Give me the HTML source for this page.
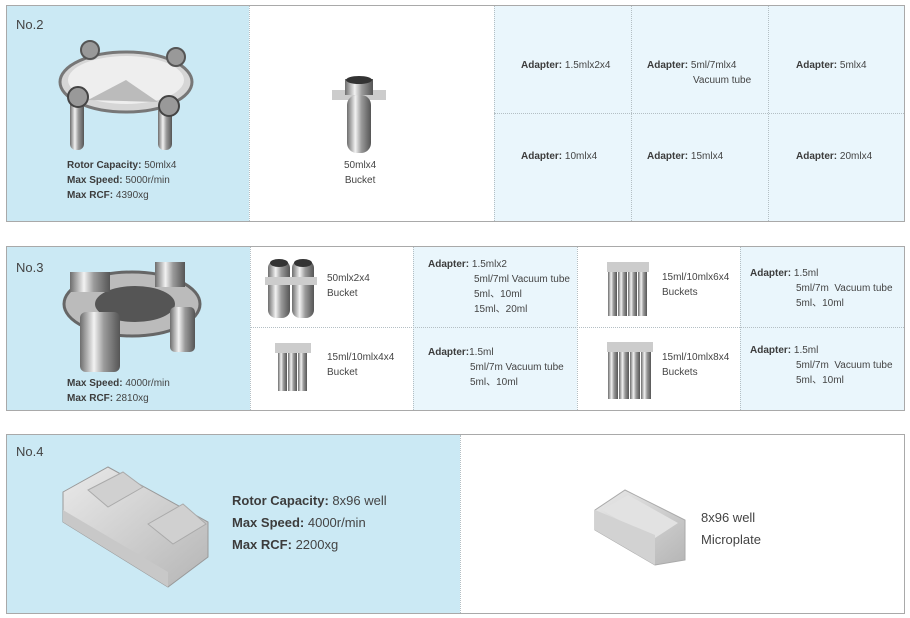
<!DOCTYPE html>
<html><head><meta charset="utf-8"><style>
*{margin:0;padding:0;box-sizing:border-box}
body{width:910px;height:618px;background:#fff;font-family:"Liberation Sans",Arial,sans-serif;color:#444;position:relative;overflow:hidden}
.a{position:absolute}
.box{position:absolute;border:1.5px solid #a9a9a9}
.blue{background:#cbe9f4}
.lb{background:#eaf6fc}
.vd{position:absolute;border-left:1px dotted #b4bfc4}
.hd{position:absolute;border-top:1px dotted #b4bfc4}
.t{position:absolute;font-size:10px;line-height:15px;color:#444;white-space:nowrap}
b{color:#3c3c3c}
.no{position:absolute;font-size:13px;color:#444}
</style></head><body>
<svg width="0" height="0" style="position:absolute"><defs>
<linearGradient id="m" x1="0" x2="1"><stop offset="0" stop-color="#6d6d6d"/><stop offset=".35" stop-color="#f2f2f2"/><stop offset=".6" stop-color="#9a9a9a"/><stop offset="1" stop-color="#555"/></linearGradient>
<linearGradient id="al" x1="0" x2="1" y1="0" y2="1"><stop offset="0" stop-color="#eaeaea"/><stop offset="1" stop-color="#b5b5b5"/></linearGradient>
</defs></svg>

<!-- Panel 1 -->
<div class="box" style="left:6px;top:5px;width:899px;height:217px"></div>
<div class="a blue" style="left:7px;top:6px;width:242px;height:215px"></div>
<div class="a lb" style="left:494px;top:6px;width:410px;height:215px"></div>
<div class="vd" style="left:249px;top:6px;height:215px"></div>
<div class="vd" style="left:494px;top:6px;height:215px"></div>
<div class="vd" style="left:631px;top:6px;height:215px"></div>
<div class="vd" style="left:768px;top:6px;height:215px"></div>
<div class="hd" style="left:494px;top:113px;width:410px"></div>
<div class="no" style="left:16px;top:17px">No.2</div>
<svg class="a" style="left:58px;top:40px" width="145" height="115">
<rect x="12" y="55" width="14" height="55" rx="6" fill="url(#m)"/><rect x="100" y="55" width="14" height="55" rx="6" fill="url(#m)"/>
<ellipse cx="68" cy="42" rx="66" ry="30" fill="#d6d6d6" stroke="#777" stroke-width="3"/>
<ellipse cx="68" cy="40" rx="58" ry="24" fill="#eee"/>
<path d="M68 40 L30 60 L100 62Z" fill="#bbb"/>
<circle cx="32" cy="10" r="9" fill="#999" stroke="#555" stroke-width="2"/><circle cx="118" cy="17" r="9" fill="#999" stroke="#555" stroke-width="2"/>
<circle cx="20" cy="57" r="10" fill="#999" stroke="#444" stroke-width="2"/><circle cx="111" cy="66" r="10" fill="#999" stroke="#444" stroke-width="2"/>
</svg>
<div class="t" style="left:67px;top:158px"><b>Rotor Capacity:</b> 50mlx4<br><b>Max Speed:</b> 5000r/min<br><b>Max RCF:</b> 4390xg</div>
<svg class="a" style="left:330px;top:75px" width="60" height="80">
<rect x="2" y="15" width="54" height="10" fill="#ccc"/>
<rect x="17" y="20" width="24" height="58" rx="10" fill="url(#m)"/>
<rect x="15" y="4" width="28" height="16" fill="url(#m)"/><ellipse cx="29" cy="5" rx="13" ry="4" fill="#333"/>
</svg>
<div class="t" style="left:344px;top:158px;text-align:center">50mlx4<br>Bucket</div>
<div class="t" style="left:521px;top:58px"><b>Adapter:</b> 1.5mlx2x4</div>
<div class="t" style="left:647px;top:58px"><b>Adapter:</b> 5ml/7mlx4<br><span style="padding-left:46px">Vacuum tube</span></div>
<div class="t" style="left:796px;top:58px"><b>Adapter:</b> 5mlx4</div>
<div class="t" style="left:521px;top:149px"><b>Adapter:</b> 10mlx4</div>
<div class="t" style="left:647px;top:149px"><b>Adapter:</b> 15mlx4</div>
<div class="t" style="left:796px;top:149px"><b>Adapter:</b> 20mlx4</div>

<!-- Panel 2 -->
<div class="box" style="left:6px;top:246px;width:899px;height:165px"></div>
<div class="a blue" style="left:7px;top:247px;width:243px;height:163px"></div>
<div class="a lb" style="left:413px;top:247px;width:164px;height:163px"></div>
<div class="a lb" style="left:740px;top:247px;width:164px;height:163px"></div>
<div class="vd" style="left:250px;top:247px;height:163px"></div>
<div class="vd" style="left:413px;top:247px;height:163px"></div>
<div class="vd" style="left:577px;top:247px;height:163px"></div>
<div class="vd" style="left:740px;top:247px;height:163px"></div>
<div class="hd" style="left:250px;top:327px;width:654px"></div>
<div class="no" style="left:16px;top:260px">No.3</div>
<svg class="a" style="left:60px;top:252px" width="145" height="125">
<ellipse cx="72" cy="52" rx="68" ry="32" fill="#bbb" stroke="#666" stroke-width="3"/>
<ellipse cx="75" cy="52" rx="40" ry="18" fill="#555"/>
<rect x="20" y="60" width="40" height="60" rx="6" fill="url(#m)"/><rect x="110" y="55" width="25" height="45" rx="5" fill="url(#m)"/>
<rect x="10" y="20" width="40" height="20" fill="url(#m)"/><rect x="95" y="10" width="30" height="25" fill="url(#m)"/>
</svg>
<div class="t" style="left:67px;top:376px"><b>Max Speed:</b> 4000r/min<br><b>Max RCF:</b> 2810xg</div>
<svg class="a" style="left:265px;top:255px" width="55" height="65"><rect x="3" y="5" width="22" height="58" rx="8" fill="url(#m)"/><rect x="27" y="5" width="22" height="58" rx="8" fill="url(#m)"/><rect x="0" y="22" width="52" height="8" fill="#ccc"/><ellipse cx="14" cy="8" rx="9" ry="4" fill="#333"/><ellipse cx="38" cy="8" rx="9" ry="4" fill="#333"/></svg>
<div class="t" style="left:327px;top:271px">50mlx2x4<br>Bucket</div>
<div class="t" style="left:428px;top:257px"><b>Adapter:</b> 1.5mlx2<br><span style="padding-left:46px">5ml/7ml Vacuum tube</span><br><span style="padding-left:46px">5ml、10ml</span><br><span style="padding-left:46px">15ml、20ml</span></div>
<svg class="a" style="left:605px;top:258px" width="50" height="60"><g fill="url(#m)"><rect x="3" y="8" width="9" height="50"/><rect x="13" y="8" width="9" height="50"/><rect x="23" y="8" width="9" height="50"/><rect x="33" y="8" width="9" height="50"/></g><rect x="2" y="4" width="42" height="10" fill="#ccc"/></svg>
<div class="t" style="left:662px;top:270px">15ml/10mlx6x4<br>Buckets</div>
<div class="t" style="left:750px;top:266px"><b>Adapter:</b> 1.5ml<br><span style="padding-left:46px">5ml/7m&nbsp; Vacuum tube</span><br><span style="padding-left:46px">5ml、10ml</span></div>
<svg class="a" style="left:272px;top:338px" width="42" height="55"><g fill="url(#m)"><rect x="6" y="10" width="9" height="43"/><rect x="16" y="10" width="9" height="43"/><rect x="26" y="10" width="9" height="43"/></g><rect x="3" y="5" width="36" height="10" fill="#ccc"/></svg>
<div class="t" style="left:327px;top:350px">15ml/10mlx4x4<br>Bucket</div>
<div class="t" style="left:428px;top:345px"><b>Adapter:</b>1.5ml<br><span style="padding-left:42px">5ml/7m Vacuum tube</span><br><span style="padding-left:42px">5ml、10ml</span></div>
<svg class="a" style="left:605px;top:337px" width="52" height="65"><g fill="url(#m)"><rect x="3" y="10" width="10" height="52"/><rect x="14" y="10" width="10" height="52"/><rect x="25" y="10" width="10" height="52"/><rect x="36" y="10" width="10" height="52"/></g><rect x="2" y="5" width="46" height="10" fill="#ccc"/></svg>
<div class="t" style="left:662px;top:350px">15ml/10mlx8x4<br>Buckets</div>
<div class="t" style="left:750px;top:343px"><b>Adapter:</b> 1.5ml<br><span style="padding-left:46px">5ml/7m&nbsp; Vacuum tube</span><br><span style="padding-left:46px">5ml、10ml</span></div>

<!-- Panel 3 -->
<div class="box" style="left:6px;top:434px;width:899px;height:180px"></div>
<div class="a blue" style="left:7px;top:435px;width:453px;height:178px"></div>
<div class="vd" style="left:460px;top:435px;height:178px"></div>
<div class="no" style="left:16px;top:444px">No.4</div>
<svg class="a" style="left:48px;top:462px" width="170" height="130">
<path d="M15 30 L60 5 L160 60 L160 95 L120 125 L15 60Z" fill="url(#al)" stroke="#999"/>
<path d="M40 28 L75 10 L95 25 L60 45Z" fill="#d0d0d0" stroke="#aaa"/>
<path d="M100 62 L135 42 L158 62 L125 82Z" fill="#d0d0d0" stroke="#aaa"/>
<path d="M15 60 L120 125 L120 110 L15 48Z" fill="#c8c8c8"/>
</svg>
<div class="a" style="left:232px;top:490px;font-size:13px;line-height:22px;color:#444;white-space:nowrap"><b>Rotor Capacity:</b> 8x96 well<br><b>Max Speed:</b> 4000r/min<br><b>Max RCF:</b> 2200xg</div>
<svg class="a" style="left:590px;top:485px" width="100" height="85">
<path d="M5 25 L35 5 L95 35 L95 75 L65 80 L5 45Z" fill="url(#al)" stroke="#aaa"/>
<path d="M12 25 L38 10 L88 38 L62 55Z" fill="#e2e2e2"/>
<path d="M5 45 L65 80 L65 50 L5 25Z" fill="#d2d2d2"/>
</svg>
<div class="a" style="left:701px;top:507px;font-size:13px;line-height:22px;color:#444">8x96 well<br>Microplate</div>
</body></html>
